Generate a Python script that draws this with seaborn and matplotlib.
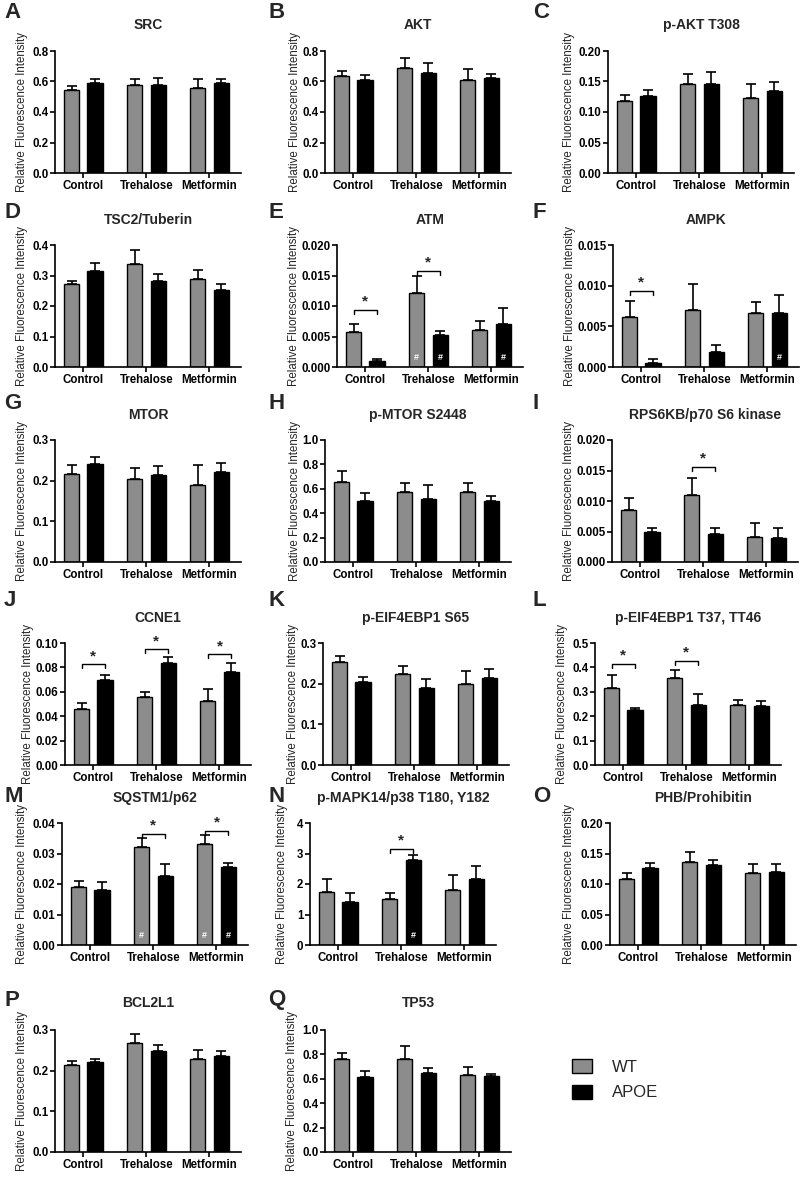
import numpy as np
import pandas as pd
import matplotlib
matplotlib.use('Agg')
import matplotlib.pyplot as plt
from matplotlib.patches import Patch
from matplotlib.ticker import FormatStrFormatter
import seaborn as sns

sns.set_style('ticks')
plt.rcParams['font.family'] = ['Liberation Sans', 'DejaVu Sans']
plt.rcParams['font.weight'] = 'bold'

groups = ['Control', 'Trehalose', 'Metformin']
genotypes = ['WT', 'APOE']
colors = {'WT': '#8c8c8c', 'APOE': '#000000'}

# mean and SEM per group
src_wt, src_wt_err = [0.545, 0.575, 0.556], [0.028, 0.044, 0.059]
src_apoe, src_apoe_err = [0.593, 0.580, 0.589], [0.022, 0.040, 0.028]

akt_wt, akt_wt_err = [0.636, 0.687, 0.610], [0.035, 0.067, 0.070]
akt_apoe, akt_apoe_err = [0.610, 0.658, 0.623], [0.033, 0.066, 0.027]

pakt_wt, pakt_wt_err = [0.118, 0.1455, 0.1226], [0.010, 0.0175, 0.0234]
pakt_apoe, pakt_apoe_err = [0.126, 0.1455, 0.1346], [0.010, 0.0195, 0.0154]

tsc2_wt, tsc2_wt_err = [0.273, 0.337, 0.288], [0.010, 0.045, 0.030]
tsc2_apoe, tsc2_apoe_err = [0.316, 0.281, 0.252], [0.026, 0.024, 0.020]

atm_wt, atm_wt_err = [0.0057, 0.0121, 0.0061], [0.0013, 0.0028, 0.00147]
atm_apoe, atm_apoe_err = [0.00093, 0.0053, 0.0070], [0.00043, 0.00065, 0.0026]

ampk_wt, ampk_wt_err = [0.0061, 0.00695, 0.0067], [0.0020, 0.0033, 0.00135]
ampk_apoe, ampk_apoe_err = [0.0005, 0.00184, 0.0066], [0.0005, 0.00086, 0.00225]

mtor_wt, mtor_wt_err = [0.2174, 0.205, 0.190], [0.021, 0.026, 0.049]
mtor_apoe, mtor_apoe_err = [0.242, 0.215, 0.2207], [0.017, 0.020, 0.023]

pmtor_wt, pmtor_wt_err = [0.655, 0.576, 0.576], [0.087, 0.071, 0.073]
pmtor_apoe, pmtor_apoe_err = [0.503, 0.519, 0.497], [0.060, 0.114, 0.041]

rps6_wt, rps6_wt_err = [0.0086, 0.01095, 0.00403], [0.00196, 0.00289, 0.00235]
rps6_apoe, rps6_apoe_err = [0.00496, 0.00458, 0.00387], [0.0006, 0.00092, 0.00174]

ccne1_wt, ccne1_wt_err = [0.0459, 0.0557, 0.0527], [0.0049, 0.0041, 0.0099]
ccne1_apoe, ccne1_apoe_err = [0.0697, 0.0836, 0.0765], [0.0043, 0.0047, 0.0071]

eif_s65_wt, eif_s65_wt_err = [0.254, 0.224, 0.200], [0.015, 0.019, 0.0305]
eif_s65_apoe, eif_s65_apoe_err = [0.2035, 0.1905, 0.215], [0.0125, 0.0205, 0.020]

eif_t37_wt, eif_t37_wt_err = [0.315, 0.356, 0.245], [0.054, 0.034, 0.021]
eif_t37_apoe, eif_t37_apoe_err = [0.225, 0.244, 0.2425], [0.009, 0.048, 0.0215]

sqstm1_wt, sqstm1_wt_err = [0.019, 0.032, 0.033], [0.002, 0.003, 0.003]
sqstm1_apoe, sqstm1_apoe_err = [0.018, 0.0225, 0.0255], [0.0025, 0.004, 0.0015]

mapk14_wt, mapk14_wt_err = [1.75, 1.50, 1.80], [0.42, 0.20, 0.50]
mapk14_apoe, mapk14_apoe_err = [1.40, 2.80, 2.15], [0.30, 0.15, 0.45]

phb_wt, phb_wt_err = [0.108, 0.136, 0.118], [0.010, 0.016, 0.015]
phb_apoe, phb_apoe_err = [0.126, 0.131, 0.120], [0.008, 0.008, 0.012]

bcl2l1_wt, bcl2l1_wt_err = [0.213, 0.267, 0.228], [0.012, 0.022, 0.023]
bcl2l1_apoe, bcl2l1_apoe_err = [0.221, 0.248, 0.236], [0.008, 0.015, 0.012]

tp53_wt, tp53_wt_err = [0.76, 0.76, 0.63], [0.05, 0.11, 0.065]
tp53_apoe, tp53_apoe_err = [0.615, 0.645, 0.62], [0.045, 0.04, 0.02]

# (letter, title, wt, wt_err, apoe, apoe_err, ymax, n ticks, tick format,
#  significance brackets [(group, height)], # marks [(genotype, group)])
panels = [
    ('A', 'SRC', src_wt, src_wt_err, src_apoe, src_apoe_err, 0.8, 5, '%.1f', [], []),
    ('B', 'AKT', akt_wt, akt_wt_err, akt_apoe, akt_apoe_err, 0.8, 5, '%.1f', [], []),
    ('C', 'p-AKT T308', pakt_wt, pakt_wt_err, pakt_apoe, pakt_apoe_err, 0.20, 5, '%.2f', [], []),
    ('D', 'TSC2/Tuberin', tsc2_wt, tsc2_wt_err, tsc2_apoe, tsc2_apoe_err, 0.4, 5, '%.1f', [], []),
    ('E', 'ATM', atm_wt, atm_wt_err, atm_apoe, atm_apoe_err, 0.020, 5, '%.3f',
     [(0, 0.0094), (1, 0.0158)], [('WT', 1), ('APOE', 1), ('APOE', 2)]),
    ('F', 'AMPK', ampk_wt, ampk_wt_err, ampk_apoe, ampk_apoe_err, 0.015, 4, '%.3f',
     [(0, 0.0094)], [('APOE', 2)]),
    ('G', 'MTOR', mtor_wt, mtor_wt_err, mtor_apoe, mtor_apoe_err, 0.3, 4, '%.1f', [], []),
    ('H', 'p-MTOR S2448', pmtor_wt, pmtor_wt_err, pmtor_apoe, pmtor_apoe_err, 1.0, 6, '%.1f', [], []),
    ('I', 'RPS6KB/p70 S6 kinase', rps6_wt, rps6_wt_err, rps6_apoe, rps6_apoe_err, 0.020, 5, '%.3f',
     [(1, 0.0156)], []),
    ('J', 'CCNE1', ccne1_wt, ccne1_wt_err, ccne1_apoe, ccne1_apoe_err, 0.10, 6, '%.2f',
     [(0, 0.0828), (1, 0.0951), (2, 0.0907)], []),
    ('K', 'p-EIF4EBP1 S65', eif_s65_wt, eif_s65_wt_err, eif_s65_apoe, eif_s65_apoe_err, 0.3, 4, '%.1f', [], []),
    ('L', 'p-EIF4EBP1 T37, TT46', eif_t37_wt, eif_t37_wt_err, eif_t37_apoe, eif_t37_apoe_err, 0.5, 6, '%.1f',
     [(0, 0.4155), (1, 0.4264)], []),
    ('M', 'SQSTM1/p62', sqstm1_wt, sqstm1_wt_err, sqstm1_apoe, sqstm1_apoe_err, 0.04, 5, '%.2f',
     [(1, 0.0365), (2, 0.0375)], [('WT', 1), ('WT', 2), ('APOE', 2)]),
    ('N', 'p-MAPK14/p38 T180, Y182', mapk14_wt, mapk14_wt_err, mapk14_apoe, mapk14_apoe_err, 4, 5, '%d',
     [(1, 3.15)], [('APOE', 1)]),
    ('O', 'PHB/Prohibitin', phb_wt, phb_wt_err, phb_apoe, phb_apoe_err, 0.20, 5, '%.2f', [], []),
    ('P', 'BCL2L1', bcl2l1_wt, bcl2l1_wt_err, bcl2l1_apoe, bcl2l1_apoe_err, 0.3, 4, '%.1f', [], []),
    ('Q', 'TP53', tp53_wt, tp53_wt_err, tp53_apoe, tp53_apoe_err, 1.0, 6, '%.1f', [], []),
]

# layout in pixels (figure is 800 x 1181)
W, H = 800, 1181
row_top = [51, 245, 440, 643, 823, 1030]
row_title = [25, 220, 415, 618, 798, 1003]
row_letter = [13, 213, 404, 600, 796, 1000]
col_left = [[55, 325, 608], [55, 337, 613], [55, 325, 612],
            [65, 323, 595], [62, 310, 610], [55, 325]]
ylab_center = [[23, 298, 570], [23, 300, 573], [23, 298, 570],
               [32, 300, 563], [23, 283, 570], [23, 293]]
col_letter = [4, 268, 533]
ax_w, ax_h = 186, 122

fig = plt.figure(figsize=(8, 11.81), dpi=100)
axes = []

for i, (letter, title, wt, wt_err, apoe, apoe_err, ymax, nt, fmt, stars, hashes) in enumerate(panels):
    r, c = divmod(i, 3)
    left = col_left[r][c]
    ax = fig.add_axes([left / W, 1 - (row_top[r] + ax_h) / H, ax_w / W, ax_h / H])
    axes.append((ax, left, ylab_center[r][c]))

    df = pd.DataFrame({
        'group': groups * 2,
        'genotype': ['WT'] * 3 + ['APOE'] * 3,
        'value': list(wt) + list(apoe),
    })
    sns.barplot(data=df, x='group', y='value', hue='genotype', order=groups,
                hue_order=genotypes, palette=colors, edgecolor='black', linewidth=1,
                width=0.74, gap=0.35, errorbar=None, legend=False, ax=ax)

    errs = {'WT': wt_err, 'APOE': apoe_err}
    centers = {}
    for g, cont in zip(genotypes, ax.containers):
        xs = [b.get_x() + b.get_width() / 2 for b in cont]
        hs = [b.get_height() for b in cont]
        centers[g] = xs
        ax.errorbar(xs, hs, yerr=[np.zeros(3), errs[g]], fmt='none', ecolor='black',
                    elinewidth=1.2, capsize=3.5, capthick=1.2, zorder=3)

    drop = ymax * 4 / ax_h
    for gi, h in stars:
        x0, x1 = centers['WT'][gi], centers['APOE'][gi]
        ax.plot([x0, x0, x1, x1], [h - drop, h, h, h - drop], color='black', lw=1)
        ax.text((x0 + x1) / 2, h + ymax * 1 / ax_h, '*', ha='center', va='bottom',
                fontsize=11, fontweight='bold')
    for g, gi in hashes:
        ax.text(centers[g][gi], ymax * 0.04, '#', ha='center', va='bottom',
                color='white', fontsize=6.5, fontweight='bold')

    ax.set_xlim(-0.45, 2.5)
    ax.set_ylim(0, ymax)
    ax.set_yticks(np.linspace(0, ymax, nt))
    ax.yaxis.set_major_formatter(FormatStrFormatter(fmt))
    ax.set_xlabel('')
    ax.set_ylabel('Relative Fluorescence Intensity', fontsize=8.3, fontweight='normal')
    ax.tick_params(axis='both', labelsize=8.3, width=1.2, length=3.5, pad=1.2, colors='black')
    for lab in ax.get_xticklabels() + ax.get_yticklabels():
        lab.set_fontweight('bold')
    for s in ['top', 'right']:
        ax.spines[s].set_visible(False)
    for s in ['left', 'bottom']:
        ax.spines[s].set_linewidth(1.2)
        ax.spines[s].set_color('black')

    fig.text((left + ax_w / 2) / W, 1 - row_title[r] / H, title, ha='center', va='center',
             fontsize=10, fontweight='bold')
    fig.text(col_letter[c] / W, 1 - row_letter[r] / H, letter, ha='left', va='center',
             fontsize=16, fontweight='bold')

# place the y labels like the reference, but never on top of the tick labels
fig.canvas.draw()
renderer = fig.canvas.get_renderer()
for ax, left, lab_c in axes:
    tick_left = min(t.get_window_extent(renderer).x0 for t in ax.get_yticklabels())
    right_edge = min(lab_c + 5, tick_left - 1.5)
    ax.yaxis.set_label_coords((right_edge - left) / ax_w, 0.5)

handles = [Patch(facecolor=colors[g], edgecolor='black', linewidth=1, label=g) for g in genotypes]
fig.legend(handles=handles, loc='upper left', bbox_to_anchor=(557 / W, 1 - 1044 / H),
           frameon=False, prop={'size': 12, 'weight': 'normal'}, handlelength=1.2,
           handleheight=0.9, labelspacing=0.6, handletextpad=1.2)

fig.savefig('out.png', dpi=100)
